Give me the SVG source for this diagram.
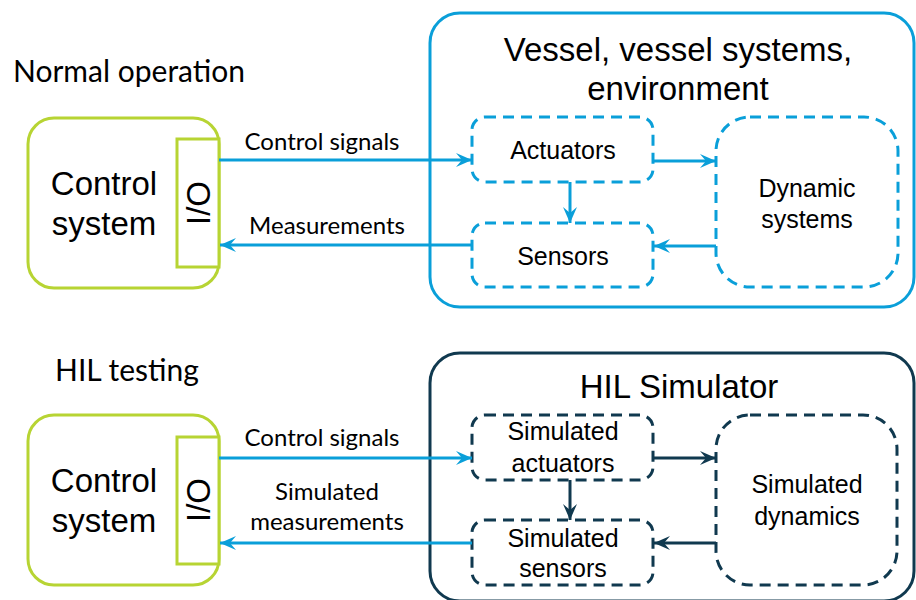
<svg xmlns="http://www.w3.org/2000/svg" width="916" height="600" viewBox="0 0 916 600">
  <style>
    .ctrl { fill: #ffffff; stroke: #b7d433; stroke-width: 3; }
    .frame-blue { fill: #ffffff; stroke: #0a9fd9; stroke-width: 3; }
    .frame-navy { fill: #ffffff; stroke: #10394f; stroke-width: 3; }
    .dash-blue { fill: #ffffff; stroke: #0a9fd9; stroke-width: 3; stroke-dasharray: 11 7; }
    .dash-navy { fill: #ffffff; stroke: #10394f; stroke-width: 3; stroke-dasharray: 11 7; }
    .wire-blue { fill: none; stroke: #0a9fd9; stroke-width: 3; }
    .wire-navy { fill: none; stroke: #10394f; stroke-width: 3; }
    .big { font-family: "Liberation Sans", Arial, sans-serif; font-size: 33px; fill: #000; text-anchor: middle; }
    .mid { font-family: "Liberation Sans", Arial, sans-serif; font-size: 25px; fill: #000; text-anchor: middle; }
    .head { font-family: Lato, "Open Sans", sans-serif; font-size: 30px; fill: #000; }
    .lbl { font-family: Lato, "Open Sans", sans-serif; font-size: 24px; fill: #000; text-anchor: middle; }
  </style>
  <defs>
    <marker id="arrow-blue" markerUnits="userSpaceOnUse" markerWidth="18" markerHeight="16" viewBox="0 0 18 16" refX="17" refY="8" orient="auto">
      <path d="M1,1 L17,8 L1,15 L7,8 z" fill="#0a9fd9"/>
    </marker>
    <marker id="arrow-navy" markerUnits="userSpaceOnUse" markerWidth="18" markerHeight="16" viewBox="0 0 18 16" refX="17" refY="8" orient="auto">
      <path d="M1,1 L17,8 L1,15 L7,8 z" fill="#10394f"/>
    </marker>
  </defs>

  <!-- section headings -->
  <text class="head" x="13" y="82">Normal operation</text>
  <text class="head" x="55" y="381">HIL testing</text>

  <!-- normal operation: plant frame -->
  <g id="vessel">
    <rect class="frame-blue" x="430" y="13" width="484" height="294" rx="30"/>
    <text class="big" x="678" y="61">Vessel, vessel systems,</text>
    <text class="big" x="678" y="100">environment</text>
  </g>

  <!-- HIL testing: simulator frame -->
  <g id="hil-simulator">
    <rect class="frame-navy" x="430" y="353" width="484" height="248" rx="30"/>
    <text class="big" x="679" y="398">HIL Simulator</text>
  </g>

  <g id="control-system-top">
    <rect class="ctrl" x="28" y="118" width="191" height="170" rx="26"/>
    <text class="big" x="104" y="195">Control</text>
    <text class="big" x="104" y="235">system</text>
  </g>
  <g id="io-top">
    <rect class="ctrl" x="177" y="139" width="42" height="128"/>
    <text class="big" transform="translate(210 203) rotate(-90)" x="0" y="0">I/O</text>
  </g>

  <g id="control-system-bottom">
    <rect class="ctrl" x="28" y="415" width="191" height="170" rx="26"/>
    <text class="big" x="104" y="492">Control</text>
    <text class="big" x="104" y="532">system</text>
  </g>
  <g id="io-bottom">
    <rect class="ctrl" x="177" y="437" width="42" height="127"/>
    <text class="big" transform="translate(210 500) rotate(-90)" x="0" y="0">I/O</text>
  </g>

  <g id="actuators">
    <rect class="dash-blue" x="472" y="117" width="181" height="65" rx="13"/>
    <text class="mid" x="563" y="159">Actuators</text>
  </g>
  <g id="sensors">
    <rect class="dash-blue" x="472" y="223" width="181" height="64" rx="13"/>
    <text class="mid" x="563" y="265">Sensors</text>
  </g>
  <g id="dynamic-systems">
    <rect class="dash-blue" x="716" y="117" width="182" height="170" rx="34"/>
    <text class="mid" x="807" y="197">Dynamic</text>
    <text class="mid" x="807" y="228">systems</text>
  </g>

  <g id="sim-actuators">
    <rect class="dash-navy" x="472" y="415" width="181" height="65" rx="13"/>
    <text class="mid" x="563" y="440">Simulated</text>
    <text class="mid" x="563" y="472">actuators</text>
  </g>
  <g id="sim-sensors">
    <rect class="dash-navy" x="472" y="520" width="181" height="65" rx="13"/>
    <text class="mid" x="563" y="547">Simulated</text>
    <text class="mid" x="563" y="577">sensors</text>
  </g>
  <g id="sim-dynamics">
    <rect class="dash-navy" x="716" y="415" width="181" height="170" rx="34"/>
    <text class="mid" x="807" y="493">Simulated</text>
    <text class="mid" x="807" y="525">dynamics</text>
  </g>

  <g id="connectors">
    <!-- normal operation -->
    <line class="wire-blue" x1="219" y1="160" x2="472" y2="160" marker-end="url(#arrow-blue)"/>
    <line class="wire-blue" x1="472" y1="245" x2="220" y2="245" marker-end="url(#arrow-blue)"/>
    <line class="wire-blue" x1="653" y1="161" x2="716" y2="161" marker-end="url(#arrow-blue)"/>
    <line class="wire-blue" x1="570" y1="182" x2="570" y2="223" marker-end="url(#arrow-blue)"/>
    <line class="wire-blue" x1="716" y1="246" x2="654" y2="246" marker-end="url(#arrow-blue)"/>
    <text class="lbl" x="322" y="150">Control signals</text>
    <text class="lbl" x="327" y="234">Measurements</text>

    <!-- HIL testing -->
    <line class="wire-blue" x1="219" y1="458" x2="472" y2="458" marker-end="url(#arrow-blue)"/>
    <line class="wire-blue" x1="472" y1="543" x2="220" y2="543" marker-end="url(#arrow-blue)"/>
    <line class="wire-navy" x1="653" y1="458" x2="716" y2="458" marker-end="url(#arrow-navy)"/>
    <line class="wire-navy" x1="570" y1="480" x2="570" y2="520" marker-end="url(#arrow-navy)"/>
    <line class="wire-navy" x1="716" y1="543" x2="654" y2="543" marker-end="url(#arrow-navy)"/>
    <text class="lbl" x="322" y="446">Control signals</text>
    <text class="lbl" x="327" y="500">Simulated</text>
    <text class="lbl" x="327" y="530">measurements</text>
  </g>
</svg>
